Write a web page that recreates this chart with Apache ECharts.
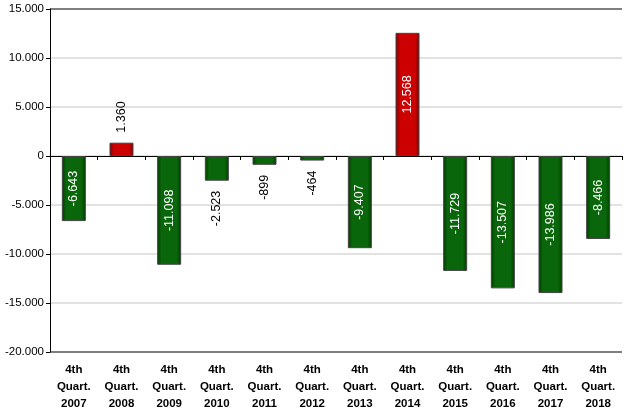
<!DOCTYPE html>
<html>
<head>
<meta charset="utf-8">
<script src="https://cdn.jsdelivr.net/npm/echarts@6/dist/echarts.min.js"></script>
<style>html,body{margin:0;padding:0;background:#fff;}#c{width:625px;height:412px;}</style>
</head>
<body>
<div id="c"></div>
<script>
var categories = ['4th\nQuart.\n2007','4th\nQuart.\n2008','4th\nQuart.\n2009','4th\nQuart.\n2010','4th\nQuart.\n2011','4th\nQuart.\n2012','4th\nQuart.\n2013','4th\nQuart.\n2014','4th\nQuart.\n2015','4th\nQuart.\n2016','4th\nQuart.\n2017','4th\nQuart.\n2018'];
var values = [-6643, 1360, -11098, -2523, -899, -464, -9407, 12568, -11729, -13507, -13986, -8466];
var outsideLabel = [false, true, false, true, true, true, false, false, false, false, false, false];

function fmt(v) {
  var s = Math.abs(v).toString().replace(/\B(?=(\d{3})+(?!\d))/g, '.');
  return (v < 0 ? '-' : '') + s;
}
function grad(edge, mid) {
  return new echarts.graphic.LinearGradient(0, 0, 1, 0, [
    {offset: 0, color: edge}, {offset: 0.18, color: mid}, {offset: 0.82, color: mid}, {offset: 1, color: edge}
  ]);
}
var data = values.map(function (v, i) {
  var pos = v >= 0;
  var item = {
    value: v,
    itemStyle: {
      color: pos ? grad('#7a0000', '#cc0000') : grad('#003a00', '#0a660a'),
      borderColor: '#444', borderWidth: 1
    }
  };
  if (outsideLabel[i]) {
    item.label = { position: pos ? 'top' : 'bottom', color: '#000', distance: 10, rotate: 90,
      align: pos ? 'left' : 'right', verticalAlign: 'middle' };
  }
  return item;
});

var chart = echarts.init(document.getElementById('c'), null, {renderer: 'canvas'});
chart.setOption({
  animation: false,
  backgroundColor: '#fff',
  grid: {left: 50, right: 3, top: 9, bottom: 54, containLabel: false},
  xAxis: [{
    type: 'category', data: categories, position: 'bottom',
    axisLine: {show: false, onZero: false},
    axisTick: {show: false},
    axisLabel: {show: true, interval: 0, margin: 9, fontFamily: 'Liberation Sans', fontWeight: 'bold',
      fontSize: 11.5, color: '#000', lineHeight: 17}
  }, {
    type: 'category', data: categories, position: 'top',
    axisLine: {show: true, onZero: true, lineStyle: {color: '#000', width: 1}},
    axisTick: {show: true, inside: true, length: 4, lineStyle: {color: '#000'}},
    axisLabel: {show: false}
  }],
  yAxis: {
    type: 'value', min: -20000, max: 15000, interval: 5000,
    axisLine: {show: true, lineStyle: {color: '#000', width: 1}},
    axisTick: {show: true, length: 4, lineStyle: {color: '#000'}},
    axisLabel: {formatter: fmt, fontFamily: 'Liberation Sans', fontSize: 11.5, color: '#000', margin: 6},
    splitLine: {show: true, lineStyle: {color: ['#555', '#d9d9d9', '#d9d9d9', '#d9d9d9', '#d9d9d9', '#d9d9d9', '#d9d9d9', '#555'], width: 1.5}}
  },
  series: [{
    type: 'bar', data: data, barWidth: 24, xAxisIndex: 0,
    label: {
      show: true, position: 'inside', rotate: 90, color: '#fff',
      fontFamily: 'Liberation Sans', fontSize: 12.5,
      formatter: function (p) { return fmt(p.value); }
    }
  }]
});
</script>
</body>
</html>
